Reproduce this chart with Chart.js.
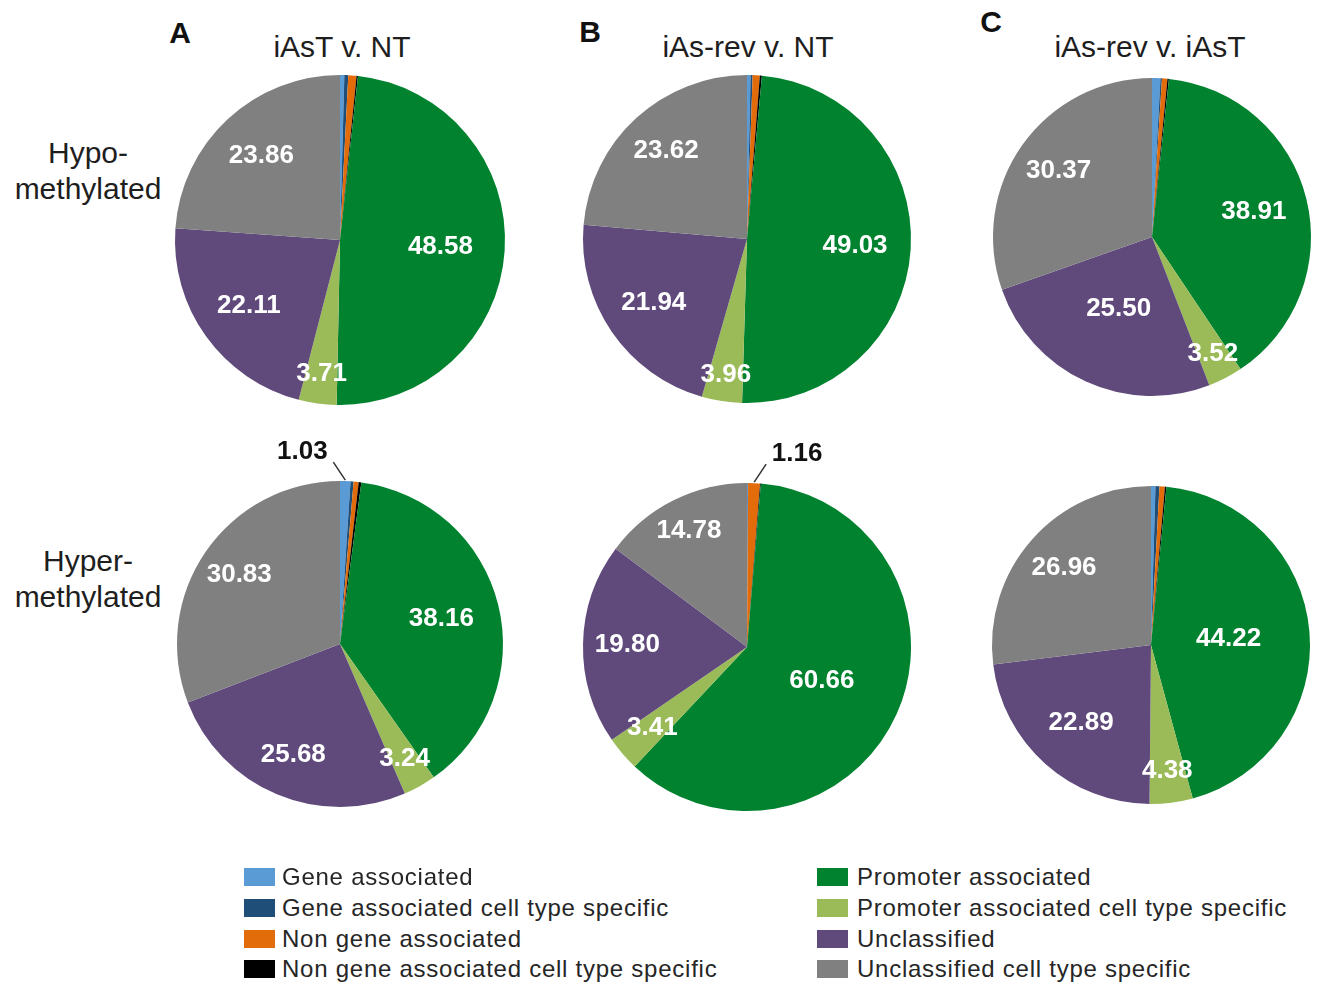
<!DOCTYPE html>
<html>
<head>
<meta charset="utf-8">
<script src="https://cdn.jsdelivr.net/npm/chart.js@4/dist/chart.umd.min.js"></script>
<style>
  html, body { margin: 0; padding: 0; background: #ffffff; }
  #page {
    position: relative; width: 1320px; height: 984px; overflow: hidden;
    font-family: "Liberation Sans", Arial, sans-serif; color: #1e1e1e;
  }
  .t { position: absolute; transform: translate(-50%, -50%); white-space: nowrap; line-height: 1; }
  .title { font-size: 30px; }
  .letter { font-size: 30px; font-weight: bold; color: #111; }
  .rowlab { font-size: 30px; text-align: center; line-height: 36px; }
  canvas { position: absolute; pointer-events: none; }
  .leg { position: absolute; height: 30px; display: flex; align-items: center; font-size: 24px; letter-spacing: 0.75px; color: #262626; white-space: nowrap; }
  .leg .sw { width: 31px; height: 18px; margin-right: 7px; flex: none; }
</style>
</head>
<body>
<div id="page"></div>
<script>
// Region categories, in slice order (clockwise from 12 o'clock)
const categories = [
  "Gene associated",
  "Gene associated cell type specific",
  "Non gene associated",
  "Non gene associated cell type specific",
  "Promoter associated",
  "Promoter associated cell type specific",
  "Unclassified",
  "Unclassified cell type specific"
];
const sliceColors = ["#5b9bd5", "#1f4e79", "#e36c0a", "#000000", "#00822f", "#9bbb59", "#5f4a7b", "#808080"];

const comparisons = ["iAsT v. NT", "iAs-rev v. NT", "iAs-rev v. iAsT"];
const panelLetters = ["A", "B", "C"];
const rowLabels = [["Hypo-", "methylated"], ["Hyper-", "methylated"]];

// Percent of differentially methylated regions per category
const hypoIAsTvNT     = [0.42, 0.38, 0.80, 0.14, 48.58, 3.71, 22.11, 23.86];
const hypoRevvNT      = [0.35, 0.20, 0.70, 0.20, 49.03, 3.96, 21.94, 23.62];
const hypoRevvIAsT    = [0.85, 0.15, 0.55, 0.15, 38.91, 3.52, 25.50, 30.37];
const hyperIAsTvNT    = [1.03, 0.30, 0.50, 0.26, 38.16, 3.24, 25.68, 30.83];
const hyperRevvNT     = [0.06, 0.05, 1.16, 0.08, 60.66, 3.41, 19.80, 14.78];
const hyperRevvIAsT   = [0.45, 0.40, 0.55, 0.15, 44.22, 4.38, 22.89, 26.96];

// Layout of the six pies: centre, radius, label depth for the four large categories, callout side
const panels = [
  { values: hypoIAsTvNT,   cx: 340,  cy: 240, r: 165, depth: [0.61, 0.82, 0.68, 0.70], side: -1 },
  { values: hypoRevvNT,    cx: 747,  cy: 239, r: 164, depth: [0.66, 0.84, 0.69, 0.73], side: 1 },
  { values: hypoRevvIAsT,  cx: 1152, cy: 237, r: 159, depth: [0.66, 0.83, 0.50, 0.72], side: 1 },
  { values: hyperIAsTvNT,  cx: 340,  cy: 644, r: 163, depth: [0.64, 0.81, 0.74, 0.75], side: -1 },
  { values: hyperRevvNT,   cx: 747,  cy: 647, r: 164, depth: [0.50, 0.76, 0.73, 0.79], side: 1 },
  { values: hyperRevvIAsT, cx: 1151, cy: 645, r: 159, depth: [0.49, 0.80, 0.66, 0.73], side: 1 }
];

const page = document.getElementById('page');
const FONT = '"Liberation Sans", Arial, sans-serif';

function addText(cls, x, y, html) {
  const d = document.createElement('div');
  d.className = 't ' + cls;
  d.style.left = x + 'px';
  d.style.top = y + 'px';
  d.innerHTML = html;
  page.appendChild(d);
  return d;
}

// Column headings
const titleX = [342, 748, 1150];
const letterPos = [[180, 33], [590, 32], [991, 22]];
comparisons.forEach((c, i) => {
  addText('title', titleX[i], 47, c);
  addText('letter', letterPos[i][0], letterPos[i][1], panelLetters[i]);
});

// Row headings
addText('rowlab', 88, 171, rowLabels[0].join('<br>'));
addText('rowlab', 88, 579, rowLabels[1].join('<br>'));

// Value labels drawn on each slice
const sliceLabels = {
  id: 'sliceLabels',
  afterDatasetsDraw(chart, args, opts) {
    const ctx = chart.ctx;
    const meta = chart.getDatasetMeta(0);
    const values = chart.data.datasets[0].data;
    ctx.save();
    ctx.textAlign = 'center';
    ctx.textBaseline = 'middle';
    ctx.font = 'bold 26px ' + FONT;
    meta.data.forEach((arc, i) => {
      const v = values[i];
      const p = arc.getProps(['x', 'y', 'startAngle', 'endAngle', 'outerRadius'], true);
      const mid = (p.startAngle + p.endAngle) / 2;
      const text = v.toFixed(2);
      if (i >= 4) {
        const d = p.outerRadius * opts.depth[i - 4];
        ctx.fillStyle = '#ffffff';
        ctx.fillText(text, p.x + Math.cos(mid) * d, p.y + Math.sin(mid) * d);
      } else if (v >= 1) {
        const ex = p.x + Math.cos(mid) * (p.outerRadius + 1);
        const ey = p.y + Math.sin(mid) * (p.outerRadius + 1);
        const lx = ex + opts.side * 12;
        const ly = ey - 18;
        ctx.strokeStyle = '#333333';
        ctx.lineWidth = 1.5;
        ctx.beginPath();
        ctx.moveTo(ex, ey);
        ctx.lineTo(lx, ly);
        ctx.stroke();
        ctx.fillStyle = '#111111';
        ctx.fillText(text, lx + opts.side * 31, ly - 10);
      }
    });
    ctx.restore();
  }
};

const PAD = 50;
panels.forEach((pn) => {
  const size = 2 * pn.r + 2 * PAD;
  const cv = document.createElement('canvas');
  cv.width = size; cv.height = size;
  cv.style.width = size + 'px'; cv.style.height = size + 'px';
  cv.style.left = (pn.cx - pn.r - PAD) + 'px';
  cv.style.top = (pn.cy - pn.r - PAD) + 'px';
  page.appendChild(cv);
  new Chart(cv, {
    type: 'pie',
    data: {
      labels: categories,
      datasets: [{
        data: pn.values,
        backgroundColor: sliceColors,
        borderWidth: 0
      }]
    },
    options: {
      responsive: false,
      animation: false,
      devicePixelRatio: 1,
      layout: { padding: PAD },
      events: [],
      plugins: {
        legend: { display: false },
        tooltip: { enabled: false },
        sliceLabels: { depth: pn.depth, side: pn.side }
      }
    },
    plugins: [sliceLabels]
  });
});

// Legend, two columns of four
const legCols = [[244, 0, 7], [817, 4, 9]];
const legRows = [877, 908, 939, 969];
legCols.forEach(([x, start, gap]) => {
  for (let k = 0; k < 4; k++) {
    const i = start + k;
    const row = document.createElement('div');
    row.className = 'leg';
    row.style.left = x + 'px';
    row.style.top = (legRows[k] - 15) + 'px';
    const sw = document.createElement('span');
    sw.className = 'sw';
    sw.style.background = sliceColors[i];
    sw.style.marginRight = gap + 'px';
    const tx = document.createElement('span');
    tx.textContent = categories[i];
    row.appendChild(sw);
    row.appendChild(tx);
    page.appendChild(row);
  }
});
</script>
</body>
</html>
